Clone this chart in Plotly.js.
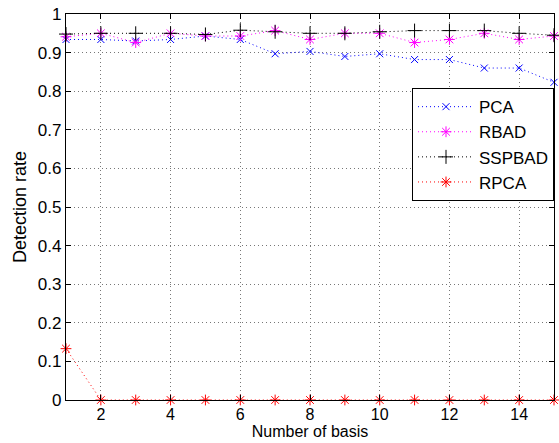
<!DOCTYPE html>
<html><head><meta charset="utf-8">
<script src="https://cdn.plot.ly/plotly-3.0.1.min.js"></script>
<style>html,body{margin:0;padding:0;background:#fff}#chart{width:559px;height:443px}</style>
</head><body><div id="chart"></div>
<script>
const basis = [1,2,3,4,5,6,7,8,9,10,11,12,13,14,15];
const pca    = [0.934,0.934,0.930,0.934,0.943,0.934,0.897,0.903,0.890,0.897,0.882,0.882,0.860,0.860,0.823];
const rbad   = [0.941,0.950,0.926,0.950,0.943,0.943,0.957,0.934,0.950,0.950,0.926,0.934,0.950,0.934,0.943];
const sspbad = [0.948,0.950,0.950,0.950,0.947,0.958,0.954,0.950,0.950,0.954,0.957,0.957,0.957,0.950,0.945];
const rpca   = [0.133,0,0,0,0,0,0,0,0,0,0,0,0,0,0];
const xTicks = [2,4,6,8,10,12,14];
const yTicks = [0,0.1,0.2,0.3,0.4,0.5,0.6,0.7,0.8,0.9,1];
const yTickText = ['0','0.1','0.2','0.3','0.4','0.5','0.6','0.7','0.8','0.9','1'];

function tr(name, y, color, symbol, size){
  return {x: basis, y: y, name: name, type: 'scatter', mode: 'lines+markers', cliponaxis: false,
    line: {color: color, width: 1, dash: '1px,3px'},
    marker: {symbol: symbol, size: size, color: color, line: {color: color, width: 1}}};
}
const data = [
  tr('PCA', pca, '#0000ff', 'x-thin-open', 7),
  tr('RBAD', rbad, '#ff00ff', 'asterisk-open', 9),
  tr('SSPBAD', sspbad, '#000000', 'cross-thin-open', 10),
  tr('RPCA', rpca, '#ff0000', 'asterisk-open', 9)
];
const FONT = 'Liberation Sans, Arial, Helvetica, sans-serif';
const axisCommon = {showline: true, mirror: 'ticks', linecolor: '#000', linewidth: 1.2,
  ticks: 'inside', ticklen: 5, tickcolor: '#000', showgrid: true, gridcolor: '#777',
  griddash: '1px,3px', gridwidth: 1, zeroline: false,
  tickfont: {family: FONT, size: 17, color: '#000'}};
const layout = {
  width: 559, height: 443,
  margin: {l: 66, r: 5, t: 14, b: 43},
  paper_bgcolor: '#fff', plot_bgcolor: '#fff',
  font: {family: FONT, color: '#000'},
  xaxis: Object.assign({}, axisCommon, {range: [1, 15], tickvals: xTicks,
    tickfont: {family: FONT, size: 16, color: '#000'},
    title: {text: 'Number of basis', font: {size: 16}, standoff: 2}}),
  yaxis: Object.assign({}, axisCommon, {range: [0, 1], tickvals: yTicks, ticktext: yTickText,
    title: {text: 'Detection rate', font: {size: 18}, standoff: 6}}),
  legend: {x: 1, xanchor: 'right', y: 0.808, yanchor: 'top', bgcolor: '#fff',
    bordercolor: '#000', borderwidth: 1, itemwidth: 56,
    font: {size: 17, color: '#000'}, tracegroupgap: 0},
  showlegend: true
};
Plotly.newPlot('chart', data, layout, {displayModeBar: false, staticPlot: true});
</script></body></html>
